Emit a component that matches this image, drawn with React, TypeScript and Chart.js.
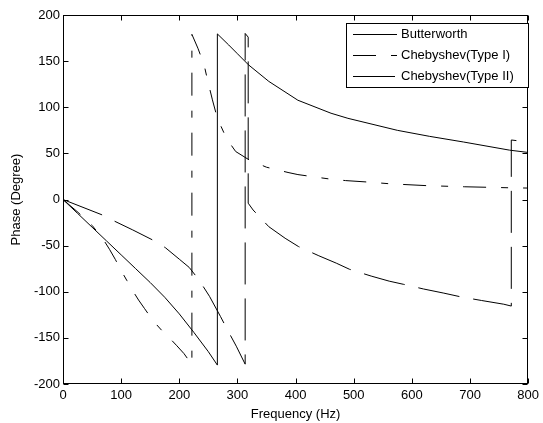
import { useEffect, useRef } from 'react';
import { Chart, registerables } from 'chart.js';

Chart.register(...registerables);

// Axis ticks
const xTickValues = [0, 100, 200, 300, 400, 500, 600, 700, 800];
const yTickValues = [-200, -150, -100, -50, 0, 50, 100, 150, 200];

// Series labels
const seriesNames = ['Butterworth', 'Chebyshev(Type I)', 'Chebyshev(Type II)'];

// Butterworth (solid)
const butterFreq = [0, 25, 50, 75, 100, 125, 150, 175, 200, 225, 250, 265.5, 265.5, 285, 300, 319, 354, 404, 461, 490, 575, 630, 689, 768, 800];
const butterPhase = [0, -15, -30, -45, -60, -75, -90, -106, -124, -144, -165, -179.5, 179.5, 167.5, 158, 146, 128, 107.6, 93.5, 88, 75, 68.5, 62.3, 53.5, 51];

// Chebyshev Type I (dash-dot)
const cheb1Freq = [0, 26, 50, 69, 80, 90, 100, 110, 120, 130, 140, 150, 160, 170, 183, 195, 208, 221.7, 221.7, 232, 242.7, 248, 257, 265.5, 277, 283, 297, 320, 350, 387, 404, 438, 461, 486, 527, 563, 626, 691, 768, 800];
const cheb1Phase = [0, -14, -28, -43, -54, -65, -77, -88, -99, -109, -118, -127, -135, -142, -150, -158, -167, -179, 179, 164, 146, 131, 108, 88, 72, 64.5, 52, 43, 35, 29.3, 27, 24, 22, 20.5, 18.8, 17, 15, 13.8, 12.7, 12.4];

// Chebyshev Type II (dashed)
const cheb2Freq = [0, 67, 89, 120, 154, 176, 200, 217, 234, 252, 271, 283, 298, 313.3, 313.3, 318.5, 318.5, 327, 354, 382, 405, 440, 470, 493, 530, 561, 586, 620, 655, 684, 720, 758, 771, 771, 787, 800];
const cheb2Phase = [0, -16.6, -23.6, -33, -43.8, -52.2, -64.7, -73.6, -87.3, -105, -127, -141.5, -159, -178.5, 180, 176, -4, -11.4, -29.5, -42, -51, -61, -69, -75.7, -83, -88.5, -92, -97, -101.5, -105.5, -109.5, -113.5, -115.5, 64.5, 63.3, 62.5];

const FONT = "Arial, 'Liberation Sans', Helvetica, sans-serif";
const FS = 13;
const DASH_I = [23, 15, 7, 15];
const DASH_II = [42, 14];

const toPoints = (xs: number[], ys: number[]) => xs.map((x, i) => ({ x, y: ys[i] }));

const framePlugin = {
  id: 'matlabFrame',
  afterDatasetsDraw(chart: any) {
    const { ctx, chartArea, scales } = chart;
    const { left, right, top, bottom } = chartArea;
    const L = Math.round(left) + 0.5;
    const R = Math.round(right) - 0.5;
    const T = Math.round(top) + 0.5;
    const B = Math.round(bottom) - 0.5;
    ctx.save();
    ctx.setLineDash([]);
    ctx.strokeStyle = '#000';
    ctx.lineWidth = 1;
    ctx.strokeRect(L, T, R - L, B - T);
    ctx.beginPath();
    const tl = 5;
    xTickValues.forEach((v) => {
      const px = Math.round(scales.x.getPixelForValue(v)) + 0.5;
      ctx.moveTo(px, B);
      ctx.lineTo(px, B - tl);
      ctx.moveTo(px, T);
      ctx.lineTo(px, T + tl);
    });
    yTickValues.forEach((v) => {
      const py = Math.round(scales.y.getPixelForValue(v)) + 0.5;
      ctx.moveTo(L, py);
      ctx.lineTo(L + tl, py);
      ctx.moveTo(R, py);
      ctx.lineTo(R - tl, py);
    });
    ctx.stroke();
    ctx.restore();
  },
  afterDraw(chart: any) {
    const { ctx } = chart;
    const bx = 346.5, by = 23.5, bw = 182, bh = 64;
    ctx.save();
    ctx.fillStyle = '#fff';
    ctx.fillRect(bx, by, bw, bh);
    ctx.strokeStyle = '#000';
    ctx.lineWidth = 1;
    ctx.setLineDash([]);
    ctx.strokeRect(bx, by, bw, bh);
    const dashes = [[], DASH_I, DASH_II];
    const rows = [34.5, 55.5, 76.5];
    ctx.font = `${FS}px ${FONT}`;
    ctx.textBaseline = 'middle';
    ctx.textAlign = 'left';
    rows.forEach((ry, i) => {
      ctx.beginPath();
      ctx.setLineDash(dashes[i]);
      ctx.strokeStyle = '#000';
      ctx.moveTo(353, ry);
      ctx.lineTo(397, ry);
      ctx.stroke();
      ctx.fillStyle = '#000';
      ctx.fillText(seriesNames[i], 401, ry);
    });
    ctx.restore();
  },
};

export default function App() {
  const ref = useRef<HTMLCanvasElement | null>(null);
  useEffect(() => {
    if (!ref.current) return;
    const chart = new Chart(ref.current, {
      type: 'line',
      data: {
        datasets: [
          {
            label: seriesNames[0],
            data: toPoints(butterFreq, butterPhase),
            borderColor: '#000',
            borderWidth: 1,
            pointRadius: 0,
            tension: 0,
          },
          {
            label: seriesNames[1],
            data: toPoints(cheb1Freq, cheb1Phase),
            borderColor: '#000',
            borderWidth: 1,
            borderDash: DASH_I,
            pointRadius: 0,
            tension: 0,
          },
          {
            label: seriesNames[2],
            data: toPoints(cheb2Freq, cheb2Phase),
            borderColor: '#000',
            borderWidth: 1,
            borderDash: DASH_II,
            pointRadius: 0,
            tension: 0,
          },
        ],
      },
      options: {
        responsive: false,
        animation: false,
        devicePixelRatio: 1,
        layout: { padding: { left: 0, right: 12, top: 15, bottom: 0 } },
        plugins: {
          legend: { display: false },
          tooltip: { enabled: false },
        },
        scales: {
          x: {
            type: 'linear',
            min: 0,
            max: 800,
            afterFit: (s: any) => { s.height = 39; },
            afterBuildTicks: (s: any) => { s.ticks = xTickValues.map((v) => ({ value: v })); },
            grid: { display: false, drawTicks: false },
            border: { display: false },
            ticks: { color: '#000', padding: 4, maxRotation: 0, font: { family: FONT, size: FS } },
            title: { display: true, text: 'Frequency (Hz)', color: '#000', padding: { top: 0, bottom: 1 }, font: { family: FONT, size: FS } },
          },
          y: {
            type: 'linear',
            min: -200,
            max: 200,
            afterFit: (s: any) => { s.width = 63; },
            afterBuildTicks: (s: any) => { s.ticks = yTickValues.map((v) => ({ value: v })); },
            grid: { display: false, drawTicks: false },
            border: { display: false },
            ticks: { color: '#000', padding: 3, font: { family: FONT, size: FS } },
            title: { display: true, text: 'Phase (Degree)', color: '#000', padding: { top: 9, bottom: 0 }, font: { family: FONT, size: FS } },
          },
        },
      },
      plugins: [framePlugin],
    });
    return () => chart.destroy();
  }, []);
  return (
    <div style={{ position: 'fixed', left: 0, top: 0, width: 543, height: 423, background: '#fff' }}>
      <canvas ref={ref} width={543} height={423} style={{ display: 'block' }} />
    </div>
  );
}
